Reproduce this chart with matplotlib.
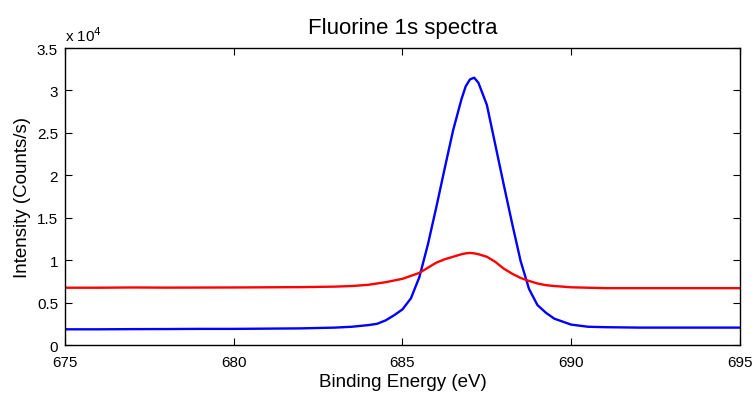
import matplotlib
matplotlib.use('Agg')
import matplotlib.pyplot as plt
from matplotlib.ticker import FuncFormatter

plt.rcParams['font.family'] = ['Liberation Sans', 'DejaVu Sans']

# binding energy (eV)
energy = [675, 676, 677, 678, 679, 680, 681, 682, 683, 683.5, 684, 684.25, 684.5,
          684.75, 685, 685.25, 685.5, 685.75, 686, 686.25, 686.5, 686.75, 686.875,
          687, 687.125, 687.25, 687.5, 687.75, 688, 688.25, 688.5, 688.75, 689,
          689.25, 689.5, 690, 690.5, 691, 692, 693, 694, 695]

# intensity (counts/s)
blue_counts = [1850, 1850, 1870, 1880, 1900, 1900, 1930, 1960, 2050, 2150, 2350,
               2500, 2900, 3500, 4200, 5500, 8000, 11800, 16200, 20800, 25300,
               29000, 30500, 31300, 31500, 30900, 28300, 23600, 18900, 14300, 9900,
               6600, 4700, 3800, 3100, 2400, 2150, 2100, 2050, 2050, 2050, 2050]
red_counts = [6750, 6750, 6780, 6760, 6770, 6780, 6800, 6820, 6880, 6950, 7100,
              7250, 7400, 7600, 7800, 8150, 8500, 9100, 9700, 10100, 10400, 10700,
              10800, 10850, 10800, 10700, 10400, 9800, 9000, 8400, 7900, 7550, 7250,
              7050, 6950, 6800, 6750, 6700, 6700, 6700, 6700, 6700]

xticks = [675, 680, 685, 690, 695]
yticks = [0, 5000, 10000, 15000, 20000, 25000, 30000, 35000]

fig = plt.figure(figsize=(7.54, 4.02), dpi=100)
ax = fig.add_axes([0.0862, 0.1393, 0.8952, 0.7388])

ax.plot(energy, blue_counts, color=(0, 0, 1), linewidth=1.7)
ax.plot(energy, red_counts, color=(1, 0, 0), linewidth=1.7)

ax.set_xlim(675, 695)
ax.set_ylim(0, 35000)
ax.set_xticks(xticks)
ax.set_yticks(yticks)
ax.yaxis.set_major_formatter(FuncFormatter(lambda v, p: '%g' % (v / 1e4)))
ax.tick_params(direction='in', length=5, width=0.8, top=True, right=True,
               labelsize=11, colors='black')
ax.tick_params(axis='x', pad=7)
ax.tick_params(axis='y', pad=5)
for s in ax.spines.values():
    s.set_linewidth(1.0)

ax.text(0.0, 1.012, 'x 10$^4$', transform=ax.transAxes, fontsize=11, va='bottom')
ax.set_title('Fluorine 1s spectra', fontsize=16, pad=11)
ax.set_xlabel('Binding Energy (eV)', fontsize=13.5, labelpad=3)
ax.set_ylabel('Intensity (Counts/s)', fontsize=13.5, labelpad=4)

fig.savefig('out.png', dpi=100)
